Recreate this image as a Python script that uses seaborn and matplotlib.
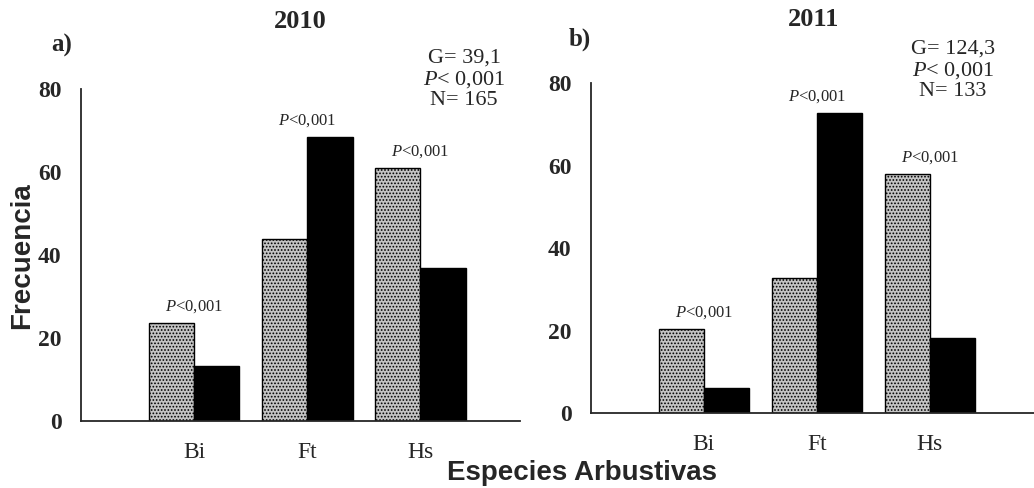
import pandas as pd
import seaborn as sns
import matplotlib.pyplot as plt

# --- data ---
especies = ['Bi', 'Ft', 'Hs']
grupos = ['Grupo 1', 'Grupo 2']
valores_2010_g1 = [23.6, 43.9, 61.0]
valores_2010_g2 = [13.3, 68.4, 36.9]
valores_2011_g1 = [20.4, 32.7, 57.9]
valores_2011_g2 = [6.1, 72.7, 18.2]
stats_2010 = ['G= 39,1', '$P$< 0,001', 'N= 165']
stats_2011 = ['G= 124,3', '$P$< 0,001', 'N= 133']
etiqueta_p = '$P$<0,001'


def make_df(g1, g2):
    rows = []
    for sp, a, b in zip(especies, g1, g2):
        rows.append({'Especie': sp, 'Grupo': grupos[0], 'Frecuencia': a})
        rows.append({'Especie': sp, 'Grupo': grupos[1], 'Frecuencia': b})
    return pd.DataFrame(rows)


df10 = make_df(valores_2010_g1, valores_2010_g2)
df11 = make_df(valores_2011_g1, valores_2011_g2)

sns.set_style('white')
plt.rcParams['font.family'] = ['Liberation Serif', 'DejaVu Serif']
plt.rcParams['mathtext.fontset'] = 'custom'
plt.rcParams['mathtext.it'] = 'Liberation Serif:italic'
plt.rcParams['mathtext.rm'] = 'Liberation Serif'
plt.rcParams['hatch.color'] = '#5a5a5a'
plt.rcParams['hatch.linewidth'] = 0.8

W, H = 1034, 488
fig = plt.figure(figsize=(W / 100, H / 100), dpi=100)
ax1 = fig.add_axes([0.0783, 0.1373, 0.4246, 0.680])
ax2 = fig.add_axes([0.5716, 0.1537, 0.428, 0.676])

# (axes, data, g1, g2, xlim right, title, title pos, letter, letter pos, stats, stats pos) in pixels
panels = [
    (ax1, df10, valores_2010_g1, valores_2010_g2, 2.88,
     '2010', (300, 22), 'a)', (62, 45), stats_2010, (464, 79)),
    (ax2, df11, valores_2011_g1, valores_2011_g2, 2.92,
     '2011', (814, 19), 'b)', (580, 39), stats_2011, (953, 70)),
]

for ax, df, g1, g2, xr, year, ypos, letter, lpos, stats, spos in panels:
    sns.barplot(data=df, x='Especie', y='Frecuencia', hue='Grupo',
                order=especies, hue_order=grupos,
                palette=['#c4c4c4', '#000000'], width=0.8,
                edgecolor='black', linewidth=1.0, saturation=1,
                ax=ax, legend=False)
    n = len(especies)
    for p in ax.patches[:n]:
        p.set_hatch('.....')
    ax.set_xlim(-1, xr)
    ax.set_ylim(0, 80)
    ax.set_yticks([0, 20, 40, 60, 80])
    ax.set_xlabel('')
    ax.set_ylabel('')
    sns.despine(ax=ax)
    ax.spines['left'].set_linewidth(1.3)
    ax.spines['bottom'].set_linewidth(1.3)
    ax.tick_params(axis='y', direction='out', length=4, width=1, labelsize=17, pad=10)
    ax.tick_params(axis='x', direction='out', length=4, width=1, labelsize=17, pad=11)
    for lab in ax.get_yticklabels():
        lab.set_fontweight('bold')
    # P annotations over each group
    for i, (a, b) in enumerate(zip(g1, g2)):
        ax.text(i, max(a, b) + 2.0, etiqueta_p, ha='center', va='bottom', fontsize=12)
    fig.text(ypos[0] / W, 1 - ypos[1] / H, year, ha='center', va='center',
             fontsize=19, fontweight='bold')
    fig.text(lpos[0] / W, 1 - lpos[1] / H, letter, ha='center', va='center',
             fontsize=18, fontweight='bold')
    fig.text(spos[0] / W, 1 - spos[1] / H, '\n'.join(stats), ha='center', va='center',
             fontsize=16, linespacing=1.1)

fig.text(22 / W, 1 - 256 / H, 'Frecuencia', rotation=90, ha='center', va='center',
         fontsize=20, fontweight='bold', family=['Liberation Sans', 'DejaVu Sans'])
fig.text(582 / W, 1 - 473 / H, 'Especies Arbustivas', ha='center', va='center',
         fontsize=20, fontweight='bold', family=['Liberation Sans', 'DejaVu Sans'])

fig.savefig('out.png', dpi=100)
